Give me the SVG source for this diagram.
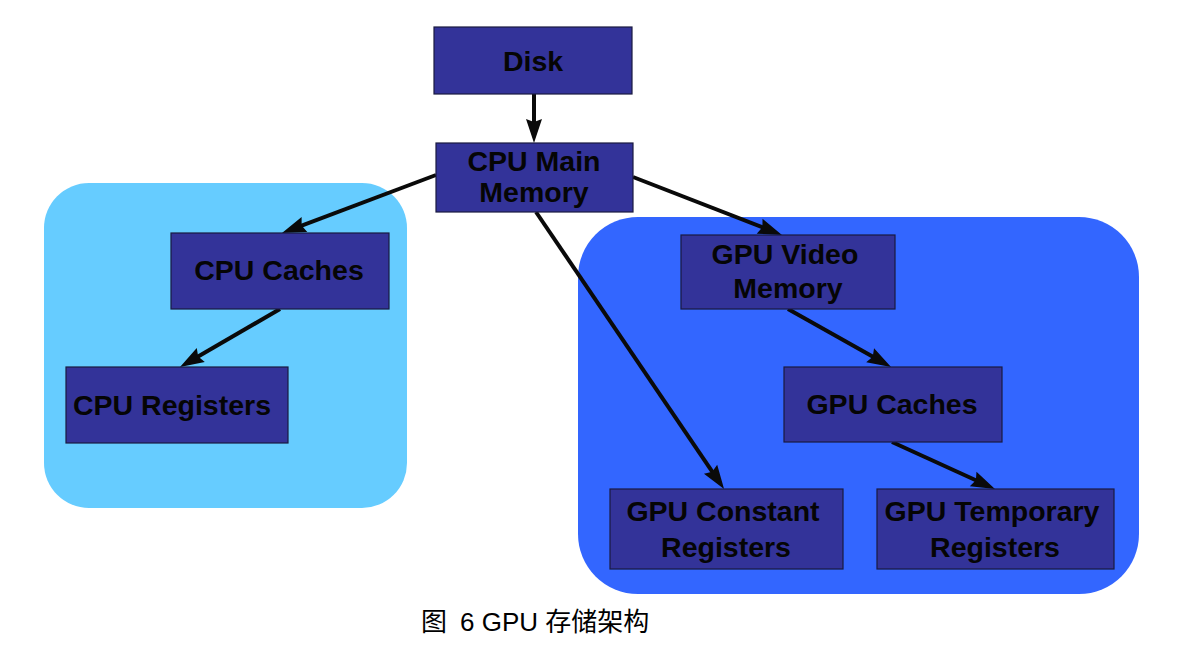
<svg xmlns="http://www.w3.org/2000/svg" width="1203" height="649" viewBox="0 0 1203 649">
<style>
.node rect{fill:#333399;stroke:#1a1a40;stroke-width:1.2}
.node text{font-family:"Liberation Sans",Arial,sans-serif;font-weight:bold;font-size:28.5px;fill:#050505;text-anchor:middle}
.conn line{stroke:#0a0a0a;stroke-width:4;marker-end:url(#ah)}
.cap{font-family:"Liberation Sans","Noto Sans CJK SC",sans-serif;font-size:26px;fill:#000}
</style>
<defs>
<marker id="ah" markerUnits="userSpaceOnUse" markerWidth="26" markerHeight="18" refX="15" refY="8" orient="auto" overflow="visible">
<path d="M0,0 L24,8 L0,16 L3,8 z" fill="#0a0a0a"/>
</marker>
</defs>
<rect width="1203" height="649" fill="#fff"/>
<g id="regions">
<rect id="cpu-region" x="44" y="183" width="363" height="325" rx="45" ry="45" fill="#66ccff"/>
<rect id="gpu-region" x="578" y="217" width="561" height="377" rx="60" ry="60" fill="#3366ff"/>
</g>
<g class="conn" id="connectors">
<line x1="534" y1="94" x2="534" y2="134"/>
<line x1="436" y1="175" x2="290.4" y2="229.8"/>
<line x1="280" y1="309" x2="187.8" y2="362.5"/>
<line x1="633" y1="177" x2="773.6" y2="231.7"/>
<line x1="536" y1="212" x2="719" y2="481.6"/>
<line x1="788" y1="309" x2="883.2" y2="362.6"/>
<line x1="892" y1="442" x2="986.8" y2="485.3"/>
</g>
<g class="node" id="disk">
<rect x="434" y="27" width="198" height="67"/>
<text x="533" y="71">Disk</text>
</g>
<g class="node" id="cpu-main-memory">
<rect x="436" y="143" width="197" height="69"/>
<text x="534" y="171">CPU Main</text>
<text x="534" y="202">Memory</text>
</g>
<g class="node" id="cpu-caches">
<rect x="171" y="233" width="218" height="76"/>
<text x="279" y="280">CPU Caches</text>
</g>
<g class="node" id="cpu-registers">
<rect x="66" y="367" width="222" height="76"/>
<text x="172" y="415">CPU Registers</text>
</g>
<g class="node" id="gpu-video-memory">
<rect x="681" y="235" width="214" height="74"/>
<text x="785" y="264">GPU Video</text>
<text x="788" y="298">Memory</text>
</g>
<g class="node" id="gpu-caches">
<rect x="784" y="367" width="218" height="75"/>
<text x="892" y="414">GPU Caches</text>
</g>
<g class="node" id="gpu-constant-registers">
<rect x="610" y="489" width="233" height="80"/>
<text x="723" y="521">GPU Constant</text>
<text x="726" y="557">Registers</text>
</g>
<g class="node" id="gpu-temporary-registers">
<rect x="877" y="489" width="237" height="80"/>
<text x="992" y="521">GPU Temporary</text>
<text x="995" y="557">Registers</text>
</g>
<text class="cap" y="631"><tspan x="421">图</tspan><tspan x="460">6 GPU 存储架构</tspan></text>
</svg>
